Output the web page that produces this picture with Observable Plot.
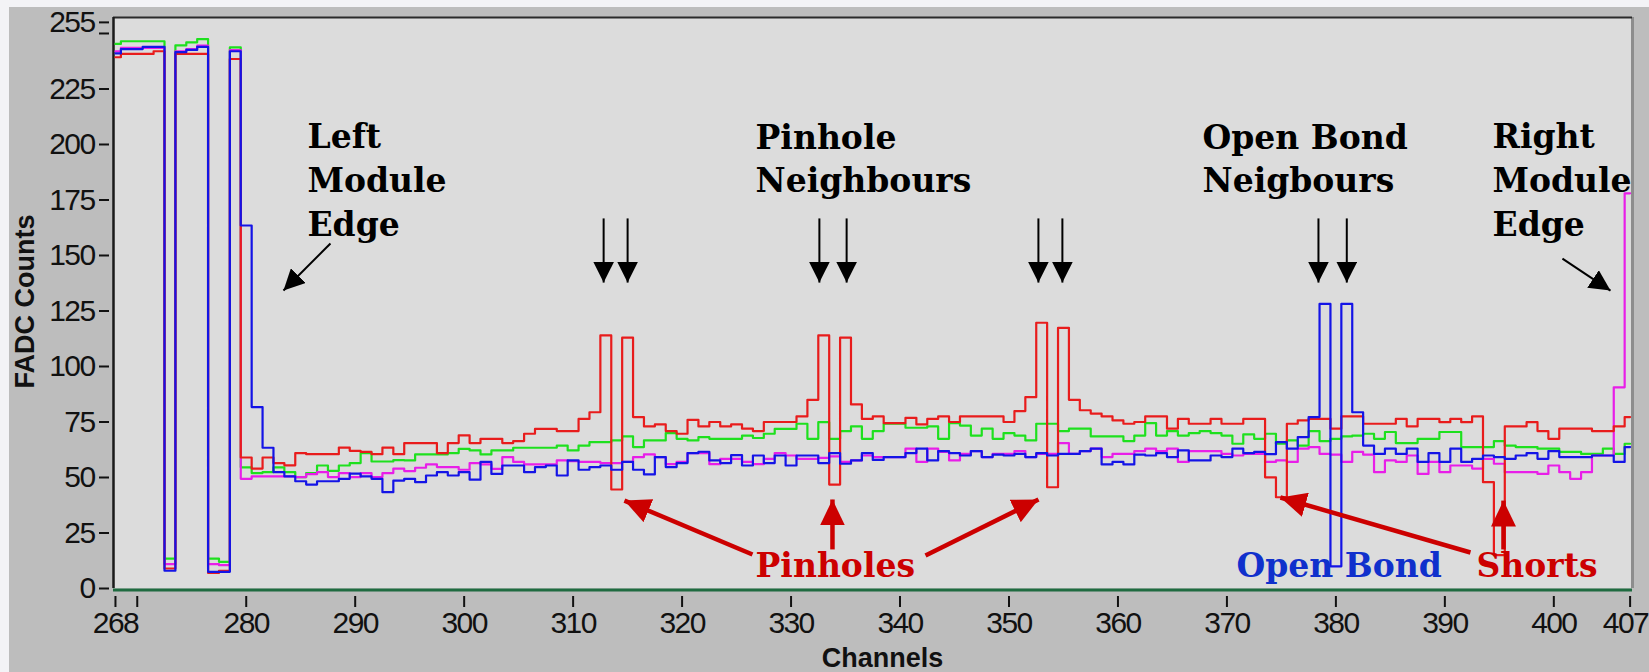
<!DOCTYPE html>
<html><head><meta charset="utf-8">
<script src="https://cdn.jsdelivr.net/npm/d3@7"></script>
<script src="https://cdn.jsdelivr.net/npm/@observablehq/plot@0.6"></script>
<style>
html,body{margin:0;padding:0;background:#f3f3f6;overflow:hidden}
g[aria-label$="tick label"] text{letter-spacing:-1.6px}
g.lastTick text{letter-spacing:-1.6px}
</style>
</head><body><div id="chart"></div>
<script>
// ---- data ----
const channels = d3.range(268, 408);
const red = [239.3,240.8,240.8,240.8,242,9,240.8,240.8,240.8,7,8,238.5,
59,54,59,56.5,55.5,61,60.5,60.5,60.5,63.5,
62,61.5,60.5,63.5,60.5,65.5,65.5,65.5,61,65.5,
69,65.5,67.4,67.4,65.5,66.4,69.7,71.9,71.9,70.9,
70.9,76.4,79.4,114,44.6,113,77.2,73,73.9,70.9,
69.7,76,73,75,73,73.9,72,70.9,75,75,
75,77.5,85,114,46.8,113,82.9,76.4,77.5,74.5,
74.5,76.9,73.9,76.4,77.5,75,77.5,77.5,77.5,77.5,
75,79.9,86.2,119.7,45.6,117.4,85,80.3,78.8,77.5,
75.7,74.2,75,77.5,77.5,72,76.4,74.2,74.2,76.4,
74.2,74.2,76.4,76.4,50.1,41.1,74.2,75.7,76.4,76.4,
72,77.5,77.5,74.2,74.2,74.2,76.4,73,76.4,76.4,
74.9,76.4,74.9,77.5,47.9,15,73,73,74.9,70.9,
67.4,72,72,72,70.9,70.9,73,77.2];
const green = [245.3,246.5,246.5,246.5,246.5,13.5,244.6,246,247.5,13.5,12,243.7,
54.6,52,52.4,54.6,52.4,50.2,52,55.4,53,55.4,
56.5,61,57.2,57.2,57.8,57.7,60.4,60.4,60.4,61,
62.9,62.2,60.4,62.2,62.2,63.4,63.4,63.4,63.4,64.4,
62.2,64.4,65.9,65.9,66.7,68.5,63.7,66.7,66.7,70,
67.4,66.7,68.2,67.4,67.4,67.4,68.9,67.8,69.7,71.9,
71.9,74.2,67.4,74.9,67.4,70.9,73,67.4,70.9,74.2,
74.2,72.4,72.4,73,67.4,74.5,73.4,68.9,72,67.4,
70,68.9,66.7,74.2,74.2,70.9,72,72,68.5,68.5,
68.5,66.4,68.9,74.5,68.9,70.9,68.9,70,70.9,70,
68.9,65.2,69.4,67.4,69.7,65.2,66.7,64.4,70.9,66.4,
67.4,68.5,68.9,69.7,67.4,70.5,65.5,65.5,67.4,67.4,
70.5,70.5,63.7,63.7,63.7,66.4,64.4,63.7,63.7,63,
63,61.5,61.5,60.6,60.6,63,60.6,65.2];
const magenta = [242,243.5,243.5,243.5,243.5,11,242,243,244.5,11,10.5,242.5,
49.4,50.5,50.5,50.5,50.5,50.2,51.5,52.4,50.2,52,
50.2,52,50.2,52,54,52.9,54.4,55.9,54.7,54.7,
53.5,56.5,55.9,53.9,59.2,57,55.9,55.9,55.9,57.7,
57.4,57,57,56.5,56.5,57,59.2,60.4,59.2,56,
57,61,61,56,58.4,58.4,57,56,58.4,61,
59.9,58.4,58.4,58.8,59.5,57,57.7,59.9,59.2,59.2,
59.2,63,57,63,61.5,57.7,60.6,61.9,59.2,60.6,
60.6,61.9,59.2,60.6,60.6,65.5,60.6,61.9,63,59.2,
60.6,60.6,61.9,63,61.9,63,57,61.9,61.9,61.9,
60.6,59.9,60.6,60.6,57,57.7,57,63,63.7,60.6,
60.3,57,61.5,60.3,52.4,57.7,57,59.9,51.6,57,
52.4,55.4,55.4,54,58.4,56.2,52.4,52.4,52.4,51.6,
55.4,52.4,49.4,52.4,59.9,59.9,90.6,178];
const blue = [241,243,243,244,244,8,241.6,242.6,244,7.5,7.5,242,
163.5,81.7,63.4,52.4,50.5,48.3,46.8,48.3,48.3,49.4,
51.7,50.5,49.4,43.4,48.6,49.4,47.9,50.9,52.4,50.9,
52.4,49,57,51.6,55.4,55.4,52.4,54.7,55.4,50.9,
57.7,53.5,54.7,55.4,53.5,57,53.5,51.4,59.2,54.7,
56.5,61,61.6,57.7,56.5,60.1,55.4,59.9,56.5,59.9,
55.4,59.9,59.9,56.5,61,56.2,57.7,61,57.9,59.2,
59.2,61,63,57.7,61.9,61,59.9,61.9,59.2,60.3,
59.9,60.6,59.2,61,59.9,60.6,60.6,61.9,63,55.9,
57,55.9,60.3,59.9,61,59.2,62.2,57.7,57.7,59.9,
59.2,63,61,61.5,60.5,65.9,63,68.2,77.2,128.2,
10,128.2,79.4,64.4,60.6,63,60.6,63,57,61,
57,63,57,58.4,59.9,59.2,58.4,59.9,61,58.4,
61.9,59.2,59.2,59.2,59.9,59.9,57,63.7];

const xTicks = [268,270,280,290,300,310,320,330,340,350,360,370,380,390,400,407];
const xLabelSkip = [270, 407];   // 270 unlabeled; 407 labelled separately at the right edge
const yTicks = [0,25,50,75,100,125,150,175,200,225,250,255];

// annotation texts (position in channel / count units)
const blackNotes = [
  {x: 285.62, y: 159.0, text: "Left\nModule\nEdge"},
  {x: 326.74, y: 178.4, text: "Pinhole\nNeighbours"},
  {x: 367.76, y: 178.4, text: "Open Bond\nNeigbours"},
  {x: 394.37, y: 159.0, text: "Right\nModule\nEdge"}
];
const redNotes = [
  {x: 326.74, y: 5.4, text: "Pinholes"},
  {x: 392.90, y: 5.4, text: "Shorts"}
];
const blueNotes = [{x: 370.88, y: 5.4, text: "Open Bond"}];

// arrows: tail (x1,y1) -> tip (x2,y2)
const redArrows = [
  {x1: 326.46, y1: 15.3, x2: 314.71, y2: 39.6},
  {x1: 333.80, y1: 17.6, x2: 333.80, y2: 40.1},
  {x1: 342.34, y1: 14.9, x2: 352.71, y2: 40.1},
  {x1: 392.35, y1: 16.2, x2: 374.91, y2: 41.0},
  {x1: 395.38, y1: 17.6, x2: 395.38, y2: 39.6}
];
const neighbourArrowX = [312.8, 315.0, 332.6, 335.1, 352.7, 354.9, 378.4, 381.0];
const edgeArrows = [
  {x1: 287.73, y1: 155.4, x2: 283.42, y2: 134.2},
  {x1: 400.79, y1: 148.6, x2: 405.20, y2: 134.2}
];

// ---- build ----
const rows = (vals) => channels.map((c, i) => ({ch: c, v: vals[i]}));
const downArrows = neighbourArrowX.map(x => ({x1: x, y1: 166.7, x2: x, y2: 137.8}));

function triMarker(len, wid) {
  return (color) => {
    const ns = "http://www.w3.org/2000/svg";
    const m = document.createElementNS(ns, "marker");
    m.setAttribute("viewBox", `${-len} ${-wid/2} ${len} ${wid}`);
    m.setAttribute("markerWidth", len);
    m.setAttribute("markerHeight", wid);
    m.setAttribute("markerUnits", "userSpaceOnUse");
    m.setAttribute("orient", "auto");
    m.setAttribute("refX", 0);
    m.setAttribute("refY", 0);
    const p = document.createElementNS(ns, "path");
    p.setAttribute("d", `M${-len},${-wid/2}L0,0L${-len},${wid/2}Z`);
    p.setAttribute("fill", color);
    p.setAttribute("stroke", "none");
    m.appendChild(p);
    return m;
  };
}

const narrow = "'Liberation Sans Narrow', 'Arial Narrow', 'Liberation Sans', sans-serif";
const serif = "'DejaVu Serif', serif";

function build(useCustom) {
  const mkRed = useCustom ? triMarker(26, 25) : "arrow";
  const mkBlack = useCustom ? triMarker(21, 21) : "arrow";
  return Plot.plot({
    width: 1649, height: 672,
    marginLeft: 113, marginRight: 17, marginTop: 17, marginBottom: 84,
    x: {domain: [267.82, 407.22]},
    y: {domain: [0, 257.2]},
    style: {
      background: "linear-gradient(to right, #f3f3f6 9px, transparent 9px), linear-gradient(to bottom, #f3f3f6 7px, #bdbdbd 7px)",
      fontFamily: narrow, color: "#111", overflow: "visible"
    },
    marks: [
      Plot.frame({fill: "#dcdcdc", stroke: null}),
      Plot.ruleX([407.22], {stroke: "#8d8d8d", strokeWidth: 3}),
      Plot.ruleY([257.2], {stroke: "#2a2a2a", strokeWidth: 2}),
      Plot.ruleX([267.82], {stroke: "#1a1a1a", strokeWidth: 2.5}),
      Plot.line(rows(green), {x: "ch", y: "v", curve: "step", stroke: "#1ee01e", strokeWidth: 2.2}),
      Plot.line(rows(magenta), {x: "ch", y: "v", curve: "step", stroke: "#e81ee8", strokeWidth: 2.2}),
      Plot.line(rows(red), {x: "ch", y: "v", curve: "step", stroke: "#e81c1c", strokeWidth: 2.2}),
      Plot.line(rows(blue), {x: "ch", y: "v", curve: "step", stroke: "#1414e6", strokeWidth: 2.2}),
      Plot.ruleY([0], {stroke: "#1f6b40", strokeWidth: 3, dy: 1.5}),
      Plot.axisY({ticks: yTicks, tickFormat: d => d === 250 ? "" : String(d), tickSize: 10, tickPadding: 5, dx: -4,
        fontSize: 30, fontFamily: narrow, strokeWidth: 2, label: null, fill: "#111"}),
      Plot.axisX({ticks: xTicks, tickFormat: d => xLabelSkip.includes(d) ? "" : String(d), tickSize: 11, tickPadding: 4, dy: 8,
        fontSize: 30, fontFamily: narrow, strokeWidth: 2, label: null, fill: "#111"}),
      Plot.text([xTicks[xTicks.length - 1]], {x: d => d, y: 0, text: d => String(d), textAnchor: "end", lineAnchor: "top",
        dx: 18, dy: 23, fontSize: 30, fontFamily: narrow, fill: "#111", className: "lastTick"}),
      Plot.text(["FADC Counts"], {x: 259.74, y: 129.3, text: d => d, rotate: -90, fontSize: 27, fontWeight: "bold",
        fontFamily: "'Liberation Sans', Arial, sans-serif", fill: "#111", lineAnchor: "middle"}),
      Plot.text(["Channels"], {x: 338.39, y: -35.4, text: d => d, fontSize: 27, fontWeight: "bold",
        fontFamily: "'Liberation Sans', Arial, sans-serif", fill: "#111", lineAnchor: "bottom"}),
      Plot.text(blackNotes, {x: "x", y: "y", text: "text", textAnchor: "start", lineAnchor: "bottom", lineHeight: 1.33,
        fontFamily: serif, fontWeight: "bold", fontSize: 33, fill: "#000"}),
      Plot.text(redNotes, {x: "x", y: "y", text: "text", textAnchor: "start", lineAnchor: "bottom",
        fontFamily: serif, fontWeight: "bold", fontSize: 33, fill: "#cc0000"}),
      Plot.text(blueNotes, {x: "x", y: "y", text: "text", textAnchor: "start", lineAnchor: "bottom",
        fontFamily: serif, fontWeight: "bold", fontSize: 33, fill: "#1030cc"}),
      Plot.link(redArrows, {x1: "x1", y1: "y1", x2: "x2", y2: "y2", stroke: "#cc0000", strokeWidth: 4.5, markerEnd: mkRed}),
      Plot.link(downArrows, {x1: "x1", y1: "y1", x2: "x2", y2: "y2", stroke: "#000", strokeWidth: 2, markerEnd: mkBlack}),
      Plot.link(edgeArrows, {x1: "x1", y1: "y1", x2: "x2", y2: "y2", stroke: "#000", strokeWidth: 2, markerEnd: mkBlack})
    ]
  });
}

let chart;
try { chart = build(true); } catch (e) { console.error(e); chart = build(false); }
document.getElementById("chart").appendChild(chart);
</script>
</body></html>
